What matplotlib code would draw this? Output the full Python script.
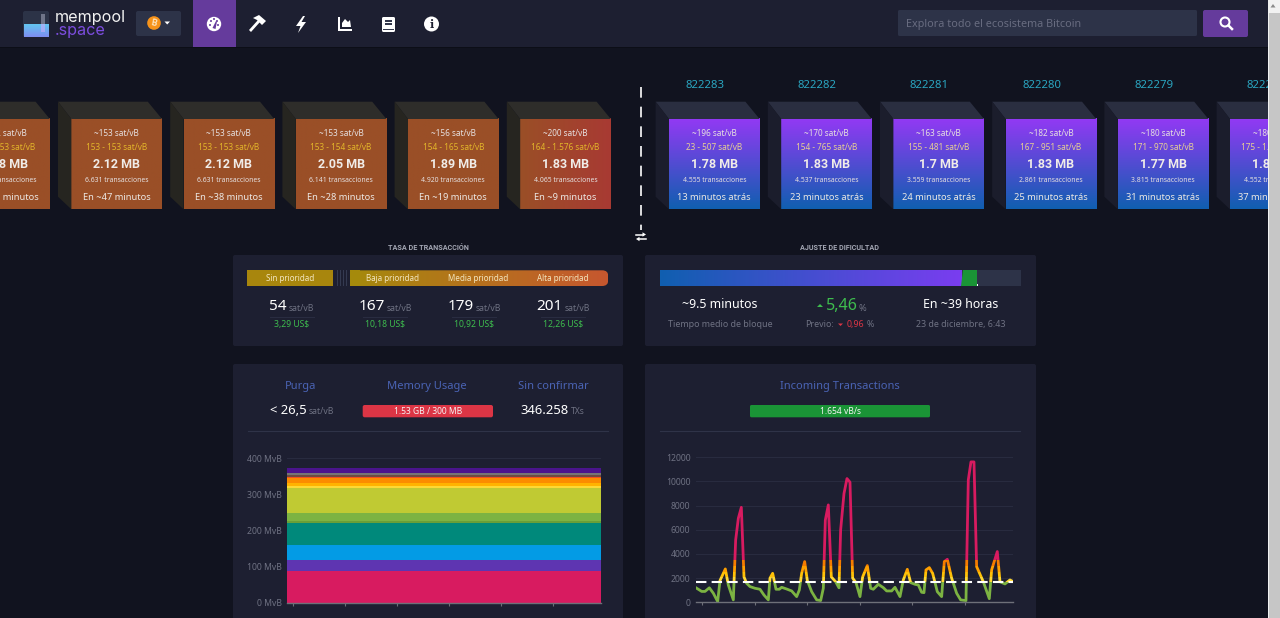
import numpy as np
import matplotlib
matplotlib.use('Agg')
import matplotlib.pyplot as plt
from matplotlib.colors import to_rgb
from matplotlib.patches import Rectangle, Polygon, Circle, FancyBboxPatch

plt.rcParams['font.family'] = ['Noto Sans', 'DejaVu Sans']

# pending blocks, oldest on the left
pending_fee = ['~152 sat/vB', '~153 sat/vB', '~153 sat/vB', '~153 sat/vB', '~156 sat/vB', '~200 sat/vB']
pending_range = ['153 - 153 sat/vB', '153 - 153 sat/vB', '153 - 153 sat/vB', '153 - 154 sat/vB', '154 - 165 sat/vB', '164 - 1.576 sat/vB']
pending_size = ['2.18 MB', '2.12 MB', '2.12 MB', '2.05 MB', '1.89 MB', '1.83 MB']
pending_txs = ['6.631 transacciones', '6.631 transacciones', '6.631 transacciones', '6.141 transacciones', '4.920 transacciones', '4.065 transacciones']
pending_eta = ['En ~57 minutos', 'En ~47 minutos', 'En ~38 minutos', 'En ~28 minutos', 'En ~19 minutos', 'En ~9 minutos']

# mined blocks
mined_height = ['822283', '822282', '822281', '822280', '822279', '822278']
mined_fee = ['~196 sat/vB', '~170 sat/vB', '~163 sat/vB', '~182 sat/vB', '~180 sat/vB', '~180 sat/vB']
mined_range = ['23 - 507 sat/vB', '154 - 765 sat/vB', '155 - 481 sat/vB', '167 - 951 sat/vB', '171 - 970 sat/vB', '175 - 1.020 sat/vB']
mined_size = ['1.78 MB', '1.83 MB', '1.7 MB', '1.83 MB', '1.77 MB', '1.81 MB']
mined_txs = ['4.555 transacciones', '4.537 transacciones', '3.559 transacciones', '2.861 transacciones', '3.815 transacciones', '4.552 transacciones']
mined_age = ['13 minutos atrás', '23 minutos atrás', '24 minutos atrás', '25 minutos atrás', '31 minutos atrás', '37 minutos atrás']

# fee panel
fee_labels = ['Sin prioridad', 'Baja prioridad', 'Media prioridad', 'Alta prioridad']
fee_values = ['54', '167', '179', '201']
fee_usd = ['3,29 US$', '10,18 US$', '10,92 US$', '12,26 US$']

# mempool stack, MvB per fee band, bottom to top
stack_colors = ['#d81b60', '#5e35b1', '#039be5', '#00897b', '#689f38', '#7cb342', '#c0ca33', '#fdd835',
                '#ffb300', '#fb8c00', '#f4511e', '#6d4c41', '#757575', '#4a148c']
stack_sizes = [88, 31, 40, 63, 5, 21, 69, 6.5, 9.5, 12, 4, 5, 4, 14]
stack_time = [-0.11, 0, 1, 2, 3, 4, 5, 5.92]
stack_ticks = [0, 1, 2, 3, 4, 5]
stack_yticks = [0, 100, 200, 300, 400]
stack_ylabels = ['0 MvB', '100 MvB', '200 MvB', '300 MvB', '400 MvB']

# incoming transactions, vB/s
tx_time = [138, 155, 165, 178, 190, 203, 210, 226, 235, 250, 257, 265, 274, 282, 290, 300, 315, 330, 342, 355,
           360, 368, 378, 388, 395, 410, 425, 440, 448, 455, 464, 472, 485, 500, 512, 520, 526, 535, 544, 557,
           567, 572, 582, 591, 600, 608, 618, 630, 638, 652, 662, 670, 685, 700, 710, 725, 735, 750, 760,
           772, 782, 795, 805, 815, 822, 828, 838, 848, 862, 875, 883, 892, 905, 920, 932, 948, 955, 963,
           972, 980, 1000, 1018, 1025, 1042, 1050, 1065, 1080, 1090]
tx_vsize = [1200, 900, 900, 1200, 750, 60, 1800, 2760, 1430, 200, 5160, 6950, 7860, 2100, 1570, 1300, 1160, 1080, 600, 200,
            2000, 2400, 1080, 1080, 1240, 1100, 940, 470, 1020, 2400, 3370, 1800, 880, 200, 140, 1160, 6800, 8060, 2100, 1700,
            1200, 6000, 9000, 10240, 9940, 2000, 1630, 470, 2100, 3040, 1160, 1080, 1490, 1210, 940, 940, 1240, 470, 1850,
            2730, 1630, 1490, 1435, 830, 800, 2680, 2870, 2400, 880, 470, 3370, 3560, 2000, 750, 200, 140, 10130, 11620,
            11620, 2950, 1700, 300, 2680, 4200, 1700, 1520, 1850, 1700]
tx_ticks = [157, 316, 472, 631, 787, 946]
tx_yticks = [0, 2000, 4000, 6000, 8000, 10000, 12000]
tx_limit = 1700
tx_bands = [(0, 1700, '#7cb342'), (1700, 2100, '#fdd835'), (2100, 2500, '#ffc107'),
            (2500, 3000, '#ffa000'), (3000, 3500, '#f57c00'), (3500, 13000, '#d81b60')]

BG = '#11131f'
PANEL = '#1d1f31'
SOFT = '#2d3348'
GREY = '#6f7283'
PURPLE = '#653b9c'

fig = plt.figure(figsize=(12.8, 6.18), dpi=100, facecolor=BG)
ax = fig.add_axes([0, 0, 1, 1])
ax.set_facecolor(BG)


def t(x, y, s, size=7, color='white', ha='center', weight='normal', z=5, **kw):
    return ax.text(x, y, s, fontsize=size, color=color, ha=ha, va='center', fontweight=weight, zorder=z, **kw)


def rect(x0, y0, x1, y1, color, z=1):
    ax.add_patch(Rectangle((x0, y0), x1 - x0, y1 - y0, facecolor=color, edgecolor='none', zorder=z))


def rrect(x0, y0, x1, y1, color, r=2, z=2):
    p = FancyBboxPatch((x0 + r, y0 + r), x1 - x0 - 2 * r, y1 - y0 - 2 * r, boxstyle=f'round,pad={r}',
                       facecolor=color, edgecolor='none', zorder=z)
    ax.add_patch(p)
    return p


def poly(points, color, z=3):
    ax.add_patch(Polygon(points, closed=True, facecolor=color, edgecolor='none', zorder=z))


def gradient(x0, y0, x1, y1, c0, c1, vertical=False, z=2):
    c0, c1 = np.array(to_rgb(c0)), np.array(to_rgb(c1))
    steps = np.linspace(0, 1, 128)[:, None]
    img = c0 * (1 - steps) + c1 * steps
    img = img[:, None, :] if vertical else img[None, :, :]
    return ax.imshow(img, extent=(x0, x1, y1, y0), aspect='auto', zorder=z, interpolation='bilinear')


def block(x, top, side, c0, c1, vertical, lines, range_color):
    poly([(x - 13.4, 101.7), (x + 76.4, 101.7), (x + 90.6, 119), (x, 119)], top)
    poly([(x - 13.4, 101.7), (x, 119), (x, 209.3), (x - 13.4, 196.7)], side)
    gradient(x, 119, x + 90.6, 209.3, c0, c1, vertical)
    cx = x + 45.3
    t(cx, 133, lines[0], 5.9, '#e6e0e0')
    t(cx, 147, lines[1], 5.9, range_color)
    t(cx, 165, lines[2], 9, '#f0ece8', weight='bold', family='Roboto')
    t(cx, 181, lines[3], 4.9, '#e6e0e0')
    t(cx, 197, lines[4], 6.7, '#ece8e4')


# nav bar
rect(0, 0, 1280, 47, PANEL)
rect(0, 47, 1280, 48, '#0c0e17')
rect(192.6, 0, 236, 47, PURPLE)

# logo
rrect(23, 11, 49, 37, '#2c3347', 2)
gradient(23.5, 24, 48.5, 37, '#62c6f0', '#7f8df2', True, z=3)
rect(41, 14, 45, 24, '#6f7488', z=4)
gradient(41, 24, 45, 32, '#9fb6f6', '#a7a8f5', True, z=4)
t(55, 17.5, 'mempool', 11.6, '#f2f2f2', ha='left', family='Inter')
t(55, 30, '.space', 11.6, '#7c4dde', ha='left', family='Inter')

# coin selector
rrect(136, 11, 181, 36, SOFT, 2)
ax.add_patch(Circle((154, 23), 6.8, facecolor='#f7931a', edgecolor='none', zorder=3))
t(154, 23, 'B', 6.5, '#fde3bd', family='Roboto', weight='bold', rotation=-12)
poly([(164.5, 21.5), (170, 21.5), (167.2, 24.5)], 'white')

# nav icons
ax.add_patch(Circle((214, 24), 7.2, facecolor='white', edgecolor='none', zorder=3))
for dx, dy in [(-4, 1), (-3, -3), (0, -5), (3, -3), (4, 1)]:
    ax.add_patch(Circle((214 + dx, 24 + dy), 1, facecolor=PURPLE, edgecolor='none', zorder=4))
poly([(212.5, 28), (216, 21), (217, 21.5), (215.5, 29)], PURPLE, z=4)
poly([(249, 30), (251, 32), (260, 22), (258, 20)], 'white')
poly([(253, 18), (259, 15), (266, 21), (262, 25), (257, 20)], 'white')
poly([(303, 16), (296, 26), (300.5, 26), (298, 33), (306, 22), (301.5, 22), (305, 16)], 'white')
poly([(338, 17), (340, 17), (340, 29), (352, 29), (352, 31), (338, 31)], 'white')
poly([(342, 27), (342, 23), (345, 19), (348, 22), (350, 20), (351, 27)], 'white')
rrect(382, 17, 395, 32, 'white', 1.5, z=3)
rect(385, 20, 392, 21.5, '#33384c', z=4)
rect(385, 23, 392, 24.5, '#33384c', z=4)
rect(383, 28.5, 394, 29.5, '#33384c', z=4)
ax.add_patch(Circle((431.5, 24), 7.5, facecolor='white', edgecolor='none', zorder=3))
t(431.5, 24, 'i', 8, PANEL, weight='bold', family='DejaVu Serif')

# search
rrect(898, 10, 1197, 36, SOFT, 1.5)
t(906, 24.5, 'Explora todo el ecosistema Bitcoin', 7.8, '#686c80', ha='left')
rrect(1203, 10, 1248, 37, PURPLE, 2)
ax.add_patch(Circle((1225, 22), 4.5, facecolor='none', edgecolor='white', linewidth=1.5, zorder=3))
ax.plot([1228.5, 1232], [25.5, 29], color='white', linewidth=1.8, zorder=3)

# blocks
for i in range(6):
    x = -40.8 + 112.2 * i
    c1 = '#a83a33' if i == 5 else '#9a4f27'
    block(x, '#2e2d2a', '#262520', '#9a4f27', c1, False,
          [pending_fee[i], pending_range[i], pending_size[i], pending_txs[i], pending_eta[i]], '#e2b52a')
for i in range(6):
    x = 669 + 112.2 * i
    t(x + 36, 85.5, mined_height[i], 8.2, '#2aa5c0')
    block(x, '#2a2e40', '#1b1d2c', '#9339f4', '#105fb0', True,
          [mined_fee[i], mined_range[i], mined_size[i], mined_txs[i], mined_age[i]], '#e8cf94')

ax.plot([641, 641], [86.7, 230], color='white', linewidth=1.2, dashes=(6.4, 5.4), zorder=3)
ax.plot([636, 643], [234.5, 234.5], color='white', linewidth=1.1, zorder=3)
poly([(642.5, 232.3), (642.5, 236.7), (646, 234.5)], 'white')
ax.plot([639, 646], [239, 239], color='white', linewidth=1.1, zorder=3)
poly([(639.5, 236.8), (639.5, 241.2), (636, 239)], 'white')

# scrollbar
rect(1267.7, 0, 1280, 618, '#f1f1f1', z=20)
rect(1269, 13, 1280, 618, '#c6c6c6', z=21)
poly([(1273, 4), (1270.5, 7.5), (1275.5, 7.5)], '#8a8a8a', z=21)

# panels
t(428, 247.5, 'TASA DE TRANSACCIÓN', 5.2, '#a4a7b4', family='Roboto', weight='bold')
t(840, 247.5, 'AJUSTE DE DIFICULTAD', 5.2, '#a4a7b4', family='Roboto', weight='bold')
rrect(233, 255, 623, 346, PANEL, 2, z=1)
rrect(645, 255, 1036, 346, PANEL, 2, z=1)
rrect(233, 364, 623, 640, PANEL, 2, z=1)
rrect(645, 364, 1036, 640, PANEL, 2, z=1)

# fee bar
rect(247.3, 270.3, 333.3, 286, '#a8860d', z=2)
for sx in [337, 340, 343, 346]:
    rect(sx, 270.3, sx + 1, 286, '#343a50', z=2)
clip = rrect(350.3, 270.3, 608.3, 286, 'none', 6, z=2)
g = gradient(350.3, 270.3, 608.3, 286, '#a58a0c', '#c6572f')
g.set_clip_path(clip)
rect(350.3, 270.3, 360, 286, '#a58a0c', z=2)
for x, s in zip([290, 392.7, 478, 563], fee_labels):
    t(x, 278.4, s, 5.8, '#f3e6bf')
for x, sx, ux, v, u in zip([278, 371.7, 460.7, 549], [301.7, 399, 488, 577], [291.7, 385, 474, 563], fee_values, fee_usd):
    t(x, 306.5, v, 11, 'white')
    t(sx, 308.5, 'sat/vB', 6.2, GREY)
    t(ux, 325, u, 6.2, '#3ebd4e')
    ax.plot([ux - 22, ux + 22], [316.8, 316.8], color='#2a2d42', linewidth=0.7, zorder=3)

# difficulty bar
rect(660, 270.3, 1021, 286, SOFT, z=2)
gradient(660, 270.3, 961.7, 286, '#105fb0', '#7a3df0')
poly([(962.5, 270.3), (977, 270.3), (977, 286), (960.5, 286)], '#1a9436')
rect(976.5, 284, 977.5, 286, 'white', z=4)
t(720, 305, '~9.5 minutos', 8.9, 'white')
t(720, 324.3, 'Tiempo medio de bloque', 6.4, GREY)
poly([(817, 307), (823, 307), (820, 304)], '#3ebd4e')
t(842, 306.5, '5,46', 11.5, '#3ebd4e')
t(862.7, 308.5, '%', 6.6, GREY)
t(820, 324.3, 'Previo:', 6.4, GREY)
poly([(838, 323.5), (843, 323.5), (840.5, 326)], '#dc3545')
t(855, 324.3, '0,96', 6.4, '#dc3545')
t(870.7, 324.3, '%', 6.4, GREY)
t(960.7, 305, 'En ~39 horas', 8.9, 'white')
t(960.7, 324.3, '23 de diciembre, 6:43', 6.4, GREY)

# stat rows
head = '#4a63b4'
t(301, 386.7, 'Purga', 8, head)
t(427.3, 386.7, 'Memory Usage', 8, head)
t(553.3, 386.7, 'Sin confirmar', 8, head)
t(288, 410.5, '< 26,5', 9.4, 'white')
t(321, 411.5, 'sat/vB', 6.2, GREY)
rrect(362.7, 405, 493, 417.3, '#dc3545', 2)
t(427.8, 411.2, '1.53 GB / 300 MB', 6.1, '#f5f5f5')
t(545, 410, '346.258', 9.4, 'white')
t(578, 411.5, 'TXs', 6.2, GREY)
t(840, 386.7, 'Incoming Transactions', 8, head)
rrect(750, 405, 930, 417.3, '#1a9436', 1.5)
t(840, 411.2, '1.654 vB/s', 6.1, '#f5f5f5')
ax.plot([248, 608], [431, 431], color='#2f3348', linewidth=0.8, zorder=3)
ax.plot([660, 1020], [431, 431], color='#2f3348', linewidth=0.8, zorder=3)

ax.set_xlim(0, 1280)
ax.set_ylim(618, 0)
ax.axis('off')


def chart_axes(x0, x1, y_top, y_bottom):
    a = fig.add_axes([x0 / 1280, 1 - y_bottom / 618, (x1 - x0) / 1280, (y_bottom - y_top) / 618])
    a.set_facecolor('none')
    for s in ['top', 'left', 'right']:
        a.spines[s].set_visible(False)
    a.spines['bottom'].set_color('#6e7079')
    a.spines['bottom'].set_linewidth(1)
    a.grid(axis='y', color='#282b3f', linewidth=0.8)
    a.set_axisbelow(True)
    a.tick_params(axis='x', length=2.5, color='#6e7079', labelbottom=False)
    a.tick_params(axis='y', length=0, labelsize=6.2, labelcolor=GREY, pad=4)
    return a


# mempool chart
a1 = chart_axes(287.3, 600.7, 458.3, 603)
a1.stackplot(stack_time, [[v] * len(stack_time) for v in stack_sizes], colors=stack_colors, linewidth=0)
a1.set_xlim(-0.11, 5.92)
a1.set_ylim(0, 400)
a1.set_xticks(stack_ticks)
a1.set_yticks(stack_yticks)
a1.set_yticklabels(stack_ylabels)

# incoming transactions chart
a2 = chart_axes(696, 1013.3, 457.3, 602.3)
for low, high, color in tx_bands:
    band = Rectangle((138, low), 952, high - low, transform=a2.transData)
    line, = a2.plot(tx_time, tx_vsize, color=color, linewidth=2, solid_joinstyle='round', clip_on=True)
    line.set_clip_path(band)
a2.axhline(tx_limit, color='white', linewidth=1.5, dashes=(5, 2.5), zorder=5)
a2.set_xlim(138, 1090)
a2.set_ylim(0, 12000)
a2.set_xticks(tx_ticks)
a2.set_yticks(tx_yticks)

fig.savefig('out.png', dpi=100, facecolor=BG)
